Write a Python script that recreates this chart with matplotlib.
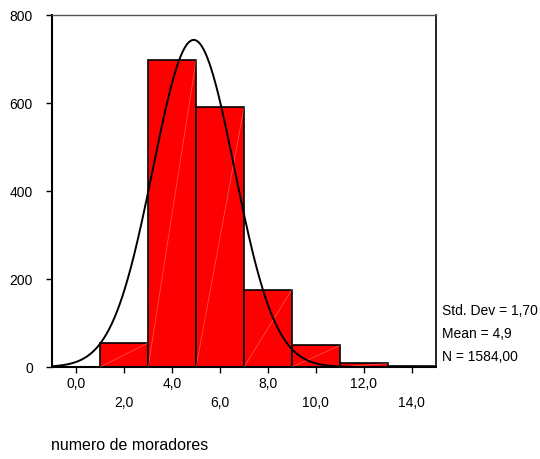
import numpy as np
import matplotlib
matplotlib.use("Agg")
import matplotlib.pyplot as plt

# Data
bin_edges = [1, 3, 5, 7, 9, 11, 13, 15]
counts = [55, 698, 590, 176, 49, 8, 2]
mean = 4.9
std = 1.70
n = 1584
x_ticks = [0, 2, 4, 6, 8, 10, 12, 14]
x_tick_labels = ["0,0", "2,0", "4,0", "6,0", "8,0", "10,0", "12,0", "14,0"]
y_ticks = [0, 200, 400, 600, 800]
stats_lines = ["Std. Dev = 1,70", "Mean = 4,9", "N = 1584,00"]
xlabel = "numero de moradores"

plt.rcParams['font.family'] = ['Liberation Sans', 'DejaVu Sans']

fig = plt.figure(figsize=(5.4, 4.59), dpi=100)
ax = fig.add_axes([0.0969, 0.2004, 0.8069 - 0.0969, 0.9673 - 0.2004])

widths = np.diff(bin_edges)
lefts = np.array(bin_edges[:-1])
ax.bar(lefts, counts, width=widths, align='edge', color='#ff0000',
       edgecolor='black', linewidth=1.2, zorder=2)
# faint diagonal artifacts
for l, w, c in zip(lefts, widths, counts):
    ax.plot([l, l + w], [0, c], color='white', alpha=0.3, lw=0.6, zorder=3)

xs = np.linspace(-1, 15, 600)
bw = bin_edges[1] - bin_edges[0]
ys = n * bw / (std * np.sqrt(2 * np.pi)) * np.exp(-0.5 * ((xs - mean) / std) ** 2)
ax.plot(xs, ys, color='black', lw=1.4, zorder=4)

ax.set_xlim(-1, 15)
ax.set_ylim(0, 800)

ax.set_xticks(x_ticks)
ax.set_xticklabels([])
for i, (t, lab) in enumerate(zip(x_ticks, x_tick_labels)):
    yoff = -17 if i % 2 == 0 else -36
    ax.annotate(lab, xy=(t, 0), xycoords=('data', 'axes fraction'),
                xytext=(0, yoff), textcoords='offset pixels',
                ha='center', va='center', fontsize=10)
ax.tick_params(axis='x', direction='out', length=4, width=1, color='black')
ax.set_yticks(y_ticks)
ax.set_yticklabels([str(v) for v in y_ticks], fontsize=10)
ax.tick_params(axis='y', direction='out', length=4, width=1, pad=10, color='black')

ax.spines['left'].set_linewidth(1.5)
ax.spines['bottom'].set_linewidth(1.5)
ax.spines['top'].set_linewidth(1.0)
ax.spines['top'].set_color('#555555')
ax.spines['right'].set_linewidth(1.2)

for i, s in enumerate(stats_lines):
    fig.text(442 / 540, 1 - (311 + 23 * i) / 459, s, ha='left', va='center', fontsize=10)

fig.text(51 / 540, 1 - 446 / 459, xlabel, ha='left', va='center', fontsize=11.5)

fig.savefig("out.png", dpi=100)
